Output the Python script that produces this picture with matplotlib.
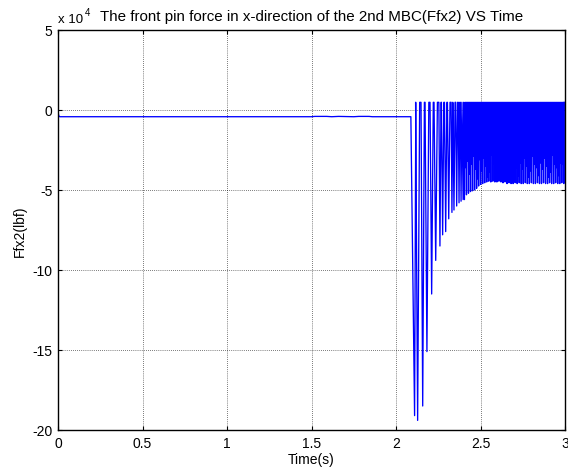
import matplotlib
matplotlib.use("Agg")
import matplotlib.pyplot as plt

plt.rcParams['font.family'] = ['Liberation Sans', 'DejaVu Sans']

# force values in units of 1e4 lbf
flat_t = [0.0, 0.004, 0.010, 1.50, 1.52, 1.59, 1.62, 1.66, 1.75, 1.78, 1.84, 1.86, 1.95, 2.088]
flat_y = [-0.05, -0.35, -0.42, -0.42, -0.40, -0.40, -0.42, -0.40, -0.42, -0.40, -0.40, -0.42, -0.42, -0.42]

# first big impacts after 2.08 s (trough times / depths)
spike_t = [2.110, 2.128, 2.158, 2.183, 2.211, 2.235, 2.260, 2.276, 2.294, 2.312,
           2.331, 2.343, 2.359, 2.373, 2.385]
spike_y = [-19.1, -19.4, -18.5, -15.1, -11.5, -9.4, -8.5, -7.8, -7.6, -6.8,
           -6.4, -6.25, -6.0, -5.8, -5.7]

# steady rattling, deep troughs
dense_t = [2.397, 2.405, 2.417, 2.429, 2.441, 2.453, 2.465, 2.477, 2.489, 2.501,
           2.513, 2.525, 2.537, 2.549, 2.561, 2.573, 2.585, 2.597, 2.609, 2.621,
           2.633, 2.645, 2.657, 2.669, 2.681, 2.693, 2.705, 2.717, 2.729, 2.741,
           2.753, 2.765, 2.777, 2.789, 2.801, 2.813, 2.825, 2.837, 2.849, 2.861,
           2.873, 2.885, 2.897, 2.909, 2.921, 2.933, 2.945, 2.957, 2.969, 2.981,
           2.993]
dense_y = [-5.6, -5.6, -5.3, -5.2, -5.1, -5.05, -5.0, -4.9, -4.75, -4.65,
           -4.6, -4.55, -4.5, -4.45, -4.5, -4.45, -4.5, -4.5, -4.45, -4.5,
           -4.55, -4.5, -4.6, -4.55, -4.6, -4.6, -4.55, -4.6, -4.55, -4.6,
           -4.6, -4.55, -4.6, -4.6, -4.55, -4.6, -4.6, -4.55, -4.6, -4.6,
           -4.55, -4.6, -4.6, -4.55, -4.6, -4.6, -4.55, -4.6, -4.6, -4.55,
           -4.6]

# shallower troughs between the deep ones
mid_t = [2.411, 2.423, 2.435, 2.447, 2.459, 2.471, 2.483, 2.495, 2.507, 2.519,
         2.531, 2.543, 2.555, 2.567, 2.579, 2.591, 2.603, 2.615, 2.627, 2.639,
         2.651, 2.663, 2.675, 2.687, 2.699, 2.711, 2.723, 2.735, 2.747, 2.759,
         2.771, 2.783, 2.795, 2.807, 2.819, 2.831, 2.843, 2.855, 2.867, 2.879,
         2.891, 2.903, 2.915, 2.927, 2.939, 2.951, 2.963, 2.975, 2.987]
mid_y = [-3.6, -3.2, -4.0, -3.4, -2.9, -3.7, -4.3, -3.1, -3.8, -3.0,
         -3.5, -4.2, -3.9, -2.8, -3.4, -3.6, -4.1, -3.3, -3.7, -3.0,
         -3.5, -4.2, -3.8, -2.9, -3.4, -3.6, -4.1, -3.3, -3.7, -3.0,
         -3.5, -4.2, -3.8, -2.9, -3.4, -3.6, -4.1, -3.3, -3.7, -3.0,
         -3.5, -4.2, -3.9, -2.8, -3.4, -3.6, -4.1, -3.3, -3.4]

peak_level = 0.48

x_ticks = [0, 0.5, 1, 1.5, 2, 2.5, 3]
x_labels = ['0', '0.5', '1', '1.5', '2', '2.5', '3']
y_ticks = [-20, -15, -10, -5, 0, 5]
y_labels = ['-20', '-15', '-10', '-5', '0', '5']

# build the polyline: flat part, then V-shaped spikes hanging from the peak level
t = list(flat_t)
y = list(flat_y)
for i, (tt, yy) in enumerate(zip(spike_t, spike_y)):
    nxt = spike_t[i + 1] if i + 1 < len(spike_t) else dense_t[0]
    hw = 0.4 * (nxt - tt)
    if i > 0:
        t.append(tt - hw)
        y.append(peak_level)
    t += [tt, tt + hw]
    y += [yy, peak_level]
for tt, yy in sorted(zip(dense_t + mid_t, dense_y + mid_y)):
    t += [tt, tt + 0.003]
    y += [yy, peak_level]

fig = plt.figure(figsize=(5.68, 4.77), dpi=100)
ax = fig.add_axes([58/568, 46/477, 507/568, 400/477])
ax.plot(t, y, color=(0, 0, 1), linewidth=0.95)

ax.set_xlim(0, 3)
ax.set_ylim(-20, 5)
ax.set_xticks(x_ticks)
ax.set_xticklabels(x_labels)
ax.set_yticks(y_ticks)
ax.set_yticklabels(y_labels)
ax.tick_params(direction='in', length=3, labelsize=10, top=True, right=True, pad=4)
ax.grid(True, color='black', linestyle=(0, (1, 2)), linewidth=0.5)
for s in ax.spines.values():
    s.set_linewidth(1.0)

ax.set_xlabel('Time(s)', fontsize=10, labelpad=2)
ax.set_ylabel('Ffx2(lbf)', fontsize=10, labelpad=4)
ax.set_title('The front pin force in x-direction of the 2nd MBC(Ffx2) VS Time', fontsize=10.9, pad=7.5)
ax.text(0.0, 1.012, 'x 10', transform=ax.transAxes, fontsize=9.5, ha='left', va='bottom')
ax.text(0.052, 1.032, '4', transform=ax.transAxes, fontsize=7, ha='left', va='bottom')

fig.savefig('out.png', dpi=100)
